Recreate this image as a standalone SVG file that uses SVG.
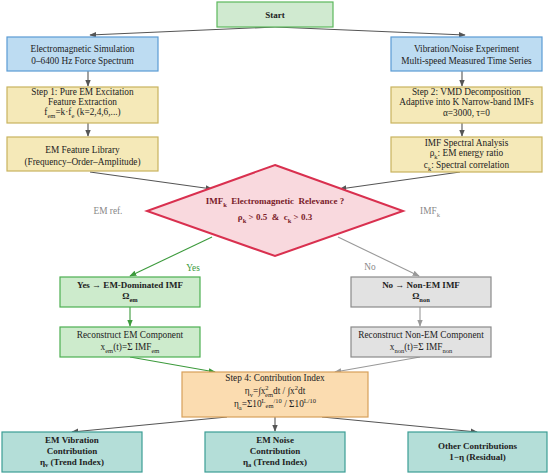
<svg xmlns="http://www.w3.org/2000/svg" width="550" height="474" viewBox="0 0 550 474">
<defs>
<marker id="ag" viewBox="0 0 10 10" refX="9" refY="5" markerWidth="7" markerHeight="7" orient="auto-start-reverse" markerUnits="userSpaceOnUse"><path d="M0,1 L10,5 L0,9 z" fill="#555"/></marker>
<marker id="agr" viewBox="0 0 10 10" refX="9" refY="5" markerWidth="7" markerHeight="7" orient="auto-start-reverse" markerUnits="userSpaceOnUse"><path d="M0,1 L10,5 L0,9 z" fill="#3c9a3c"/></marker>
<marker id="alg" viewBox="0 0 10 10" refX="9" refY="5" markerWidth="7" markerHeight="7" orient="auto-start-reverse" markerUnits="userSpaceOnUse"><path d="M0,1 L10,5 L0,9 z" fill="#999"/></marker>
</defs>
<style>
text{font-family:"Liberation Serif","Times New Roman",serif;font-size:9.3px;fill:#222;text-anchor:middle}
.b{font-weight:bold;font-size:9px}
.start{fill:#d0ead0;stroke:#5cb85c;stroke-width:1.2}
.blue{fill:#bddcf2;stroke:#5a9bd4;stroke-width:1.2}
.yel{fill:#f5e9b8;stroke:#c9b35e;stroke-width:1.2}
.grn{fill:#cdebcc;stroke:#4caf50;stroke-width:1.2}
.gry{fill:#e2e2e2;stroke:#8a8a8a;stroke-width:1.2}
.org{fill:#fbdcb0;stroke:#d8a05a;stroke-width:1.2}
.teal{fill:#b4ded8;stroke:#3b9d95;stroke-width:1.2}
.dia{fill:#f9d9de;stroke:#d9304f;stroke-width:2}
.dt{fill:#7a1c2a;font-weight:bold;font-size:9px}
.c{fill:none;stroke:#555;stroke-width:1.1;marker-end:url(#ag)}
.cg{fill:none;stroke:#3c9a3c;stroke-width:1.1;marker-end:url(#agr)}
.cl{fill:none;stroke:#999;stroke-width:1.1;marker-end:url(#alg)}
.lbl{fill:#888}
.sub{font-size:6.5px}
</style>

<g id="connectors">
<line class="c" x1="275" y1="27" x2="90" y2="35"/>
<line class="c" x1="275" y1="27" x2="465" y2="35"/>
<line class="c" x1="88" y1="71" x2="88" y2="86"/>
<line class="c" x1="462" y1="71" x2="462" y2="86"/>
<line class="c" x1="88" y1="123" x2="88" y2="136"/>
<line class="c" x1="462" y1="123" x2="462" y2="136"/>
<line class="c" x1="90" y1="172" x2="212" y2="189"/>
<line class="c" x1="460" y1="172" x2="340" y2="189"/>
<line class="cg" x1="212" y1="237" x2="130" y2="276"/>
<line class="cl" x1="338" y1="237" x2="419" y2="276"/>
<line class="cg" x1="130" y1="307" x2="130" y2="326"/>
<line class="cl" x1="420" y1="307" x2="420" y2="326"/>
<line class="cg" x1="130" y1="357" x2="215" y2="372"/>
<line class="cl" x1="420" y1="357" x2="335" y2="372"/>
<line class="c" x1="227" y1="417" x2="72" y2="432"/>
<line class="c" x1="275" y1="417" x2="275" y2="431"/>
<line class="c" x1="322" y1="417" x2="477" y2="432"/>
<text class="lbl" x="108" y="214">EM ref.</text>
<text class="lbl" x="430" y="214">IMF<tspan class="sub" dy="3">k</tspan></text>
<text x="193" y="271" style="fill:#3c9a3c">Yes</text>
<text class="lbl" x="370" y="270">No</text>
</g>

<g id="start"><rect class="start" x="217" y="2" width="116" height="25"/><text class="b" x="275" y="17.5">Start</text></g>

<g id="emsim"><rect class="blue" x="7" y="37" width="151" height="34"/>
<text x="82.5" y="52">Electromagnetic Simulation</text><text x="82.5" y="64">0–6400 Hz Force Spectrum</text></g>

<g id="vibexp"><rect class="blue" x="391" y="37" width="151" height="34"/>
<text x="466.5" y="52">Vibration/Noise Experiment</text><text x="466.5" y="64">Multi-speed Measured Time Series</text></g>

<g id="step1"><rect class="yel" x="7" y="87" width="151" height="36"/>
<text x="82.5" y="95">Step 1: Pure EM Excitation</text>
<text x="82.5" y="105">Feature Extraction</text>
<text x="82.5" y="114.5">f<tspan class="sub" dy="3">em</tspan><tspan dy="-3">=k·f</tspan><tspan class="sub" dy="3">e</tspan><tspan dy="-3"> (k=2,4,6,...)</tspan></text></g>

<g id="step2"><rect class="yel" x="391" y="87" width="151" height="36"/>
<text x="466.5" y="95">Step 2: VMD Decomposition</text>
<text x="466.5" y="105">Adaptive into K Narrow-band IMFs</text>
<text x="466.5" y="116">α=3000, τ=0</text></g>

<g id="emlib"><rect class="yel" x="7" y="137" width="151" height="34"/>
<text x="82.5" y="152.5">EM Feature Library</text><text x="82.5" y="164.5">(Frequency–Order–Amplitude)</text></g>

<g id="imfspec"><rect class="yel" x="391" y="137" width="151" height="35"/>
<text x="466.5" y="145.5">IMF Spectral Analysis</text>
<text x="466.5" y="156">ρ<tspan class="sub" dy="3">k</tspan><tspan dy="-3">: EM energy ratio</tspan></text>
<text x="466.5" y="168">c<tspan class="sub" dy="3">k</tspan><tspan dy="-3">: Spectral correlation</tspan></text></g>

<g id="decision"><polygon class="dia" points="275,165 403,211 275,256 147,211"/>
<text class="dt" x="275" y="204" xml:space="preserve">IMF<tspan class="sub" dy="3">k</tspan><tspan dy="-3">  Electromagnetic  Relevance ?</tspan></text>
<text class="dt" x="275" y="220" xml:space="preserve">ρ<tspan class="sub" dy="3">k</tspan><tspan dy="-3"> &gt; 0.5  &amp;  c</tspan><tspan class="sub" dy="3">k</tspan><tspan dy="-3"> &gt; 0.3</tspan></text></g>

<g id="yesbox"><rect class="grn" x="60" y="277" width="140" height="30"/>
<text class="b" x="130" y="288">Yes → EM-Dominated IMF</text>
<text class="b" x="130" y="299">Ω<tspan class="sub" dy="3">em</tspan></text></g>

<g id="nobox"><rect class="gry" x="351" y="277" width="140" height="30"/>
<text class="b" x="421" y="288">No → Non-EM IMF</text>
<text class="b" x="421" y="299">Ω<tspan class="sub" dy="3">non</tspan></text></g>

<g id="recem"><rect class="grn" x="60" y="327" width="140" height="30"/>
<text x="130" y="338">Reconstruct EM Component</text>
<text x="130" y="350">x<tspan class="sub" dy="3">em</tspan><tspan dy="-3">(t)=Σ IMF</tspan><tspan class="sub" dy="3">em</tspan></text></g>

<g id="recnon"><rect class="gry" x="351" y="327" width="140" height="30"/>
<text x="421" y="338">Reconstruct Non-EM Component</text>
<text x="421" y="350">x<tspan class="sub" dy="3">non</tspan><tspan dy="-3">(t)=Σ IMF</tspan><tspan class="sub" dy="3">non</tspan></text></g>

<g id="step4"><rect class="org" x="182" y="372" width="186" height="45"/>
<text x="275" y="381">Step 4: Contribution Index</text>
<text x="275" y="394">η<tspan class="sub" dy="3">v</tspan><tspan dy="-3">=∫x</tspan><tspan class="sub" dy="-4">2</tspan><tspan class="sub" dx="-3.5" dy="7">em</tspan><tspan dy="-3">dt / ∫x</tspan><tspan class="sub" dy="-4">2</tspan><tspan dy="4">dt</tspan></text>
<text x="275" y="407">η<tspan class="sub" dy="3">a</tspan><tspan dy="-3">=Σ10</tspan><tspan class="sub" dy="-4">L</tspan><tspan class="sub" dy="5">em</tspan><tspan class="sub" dy="-5">/10</tspan><tspan dy="4"> / Σ10</tspan><tspan class="sub" dy="-4">L/10</tspan></text></g>

<g id="emvib"><rect class="teal" x="2" y="432" width="140" height="40"/>
<text class="b" x="72" y="443">EM Vibration</text>
<text class="b" x="72" y="454">Contribution</text>
<text class="b" x="72" y="465">η<tspan class="sub" dy="2">v</tspan><tspan dy="-2"> (Trend Index)</tspan></text></g>

<g id="emnoise"><rect class="teal" x="205" y="432" width="140" height="40"/>
<text class="b" x="275" y="443">EM Noise</text>
<text class="b" x="275" y="454">Contribution</text>
<text class="b" x="275" y="465">η<tspan class="sub" dy="2">a</tspan><tspan dy="-2"> (Trend Index)</tspan></text></g>

<g id="other"><rect class="teal" x="408" y="432" width="139" height="40"/>
<text class="b" x="477.5" y="449">Other Contributions</text>
<text class="b" x="477.5" y="460">1−η (Residual)</text></g>
</svg>
